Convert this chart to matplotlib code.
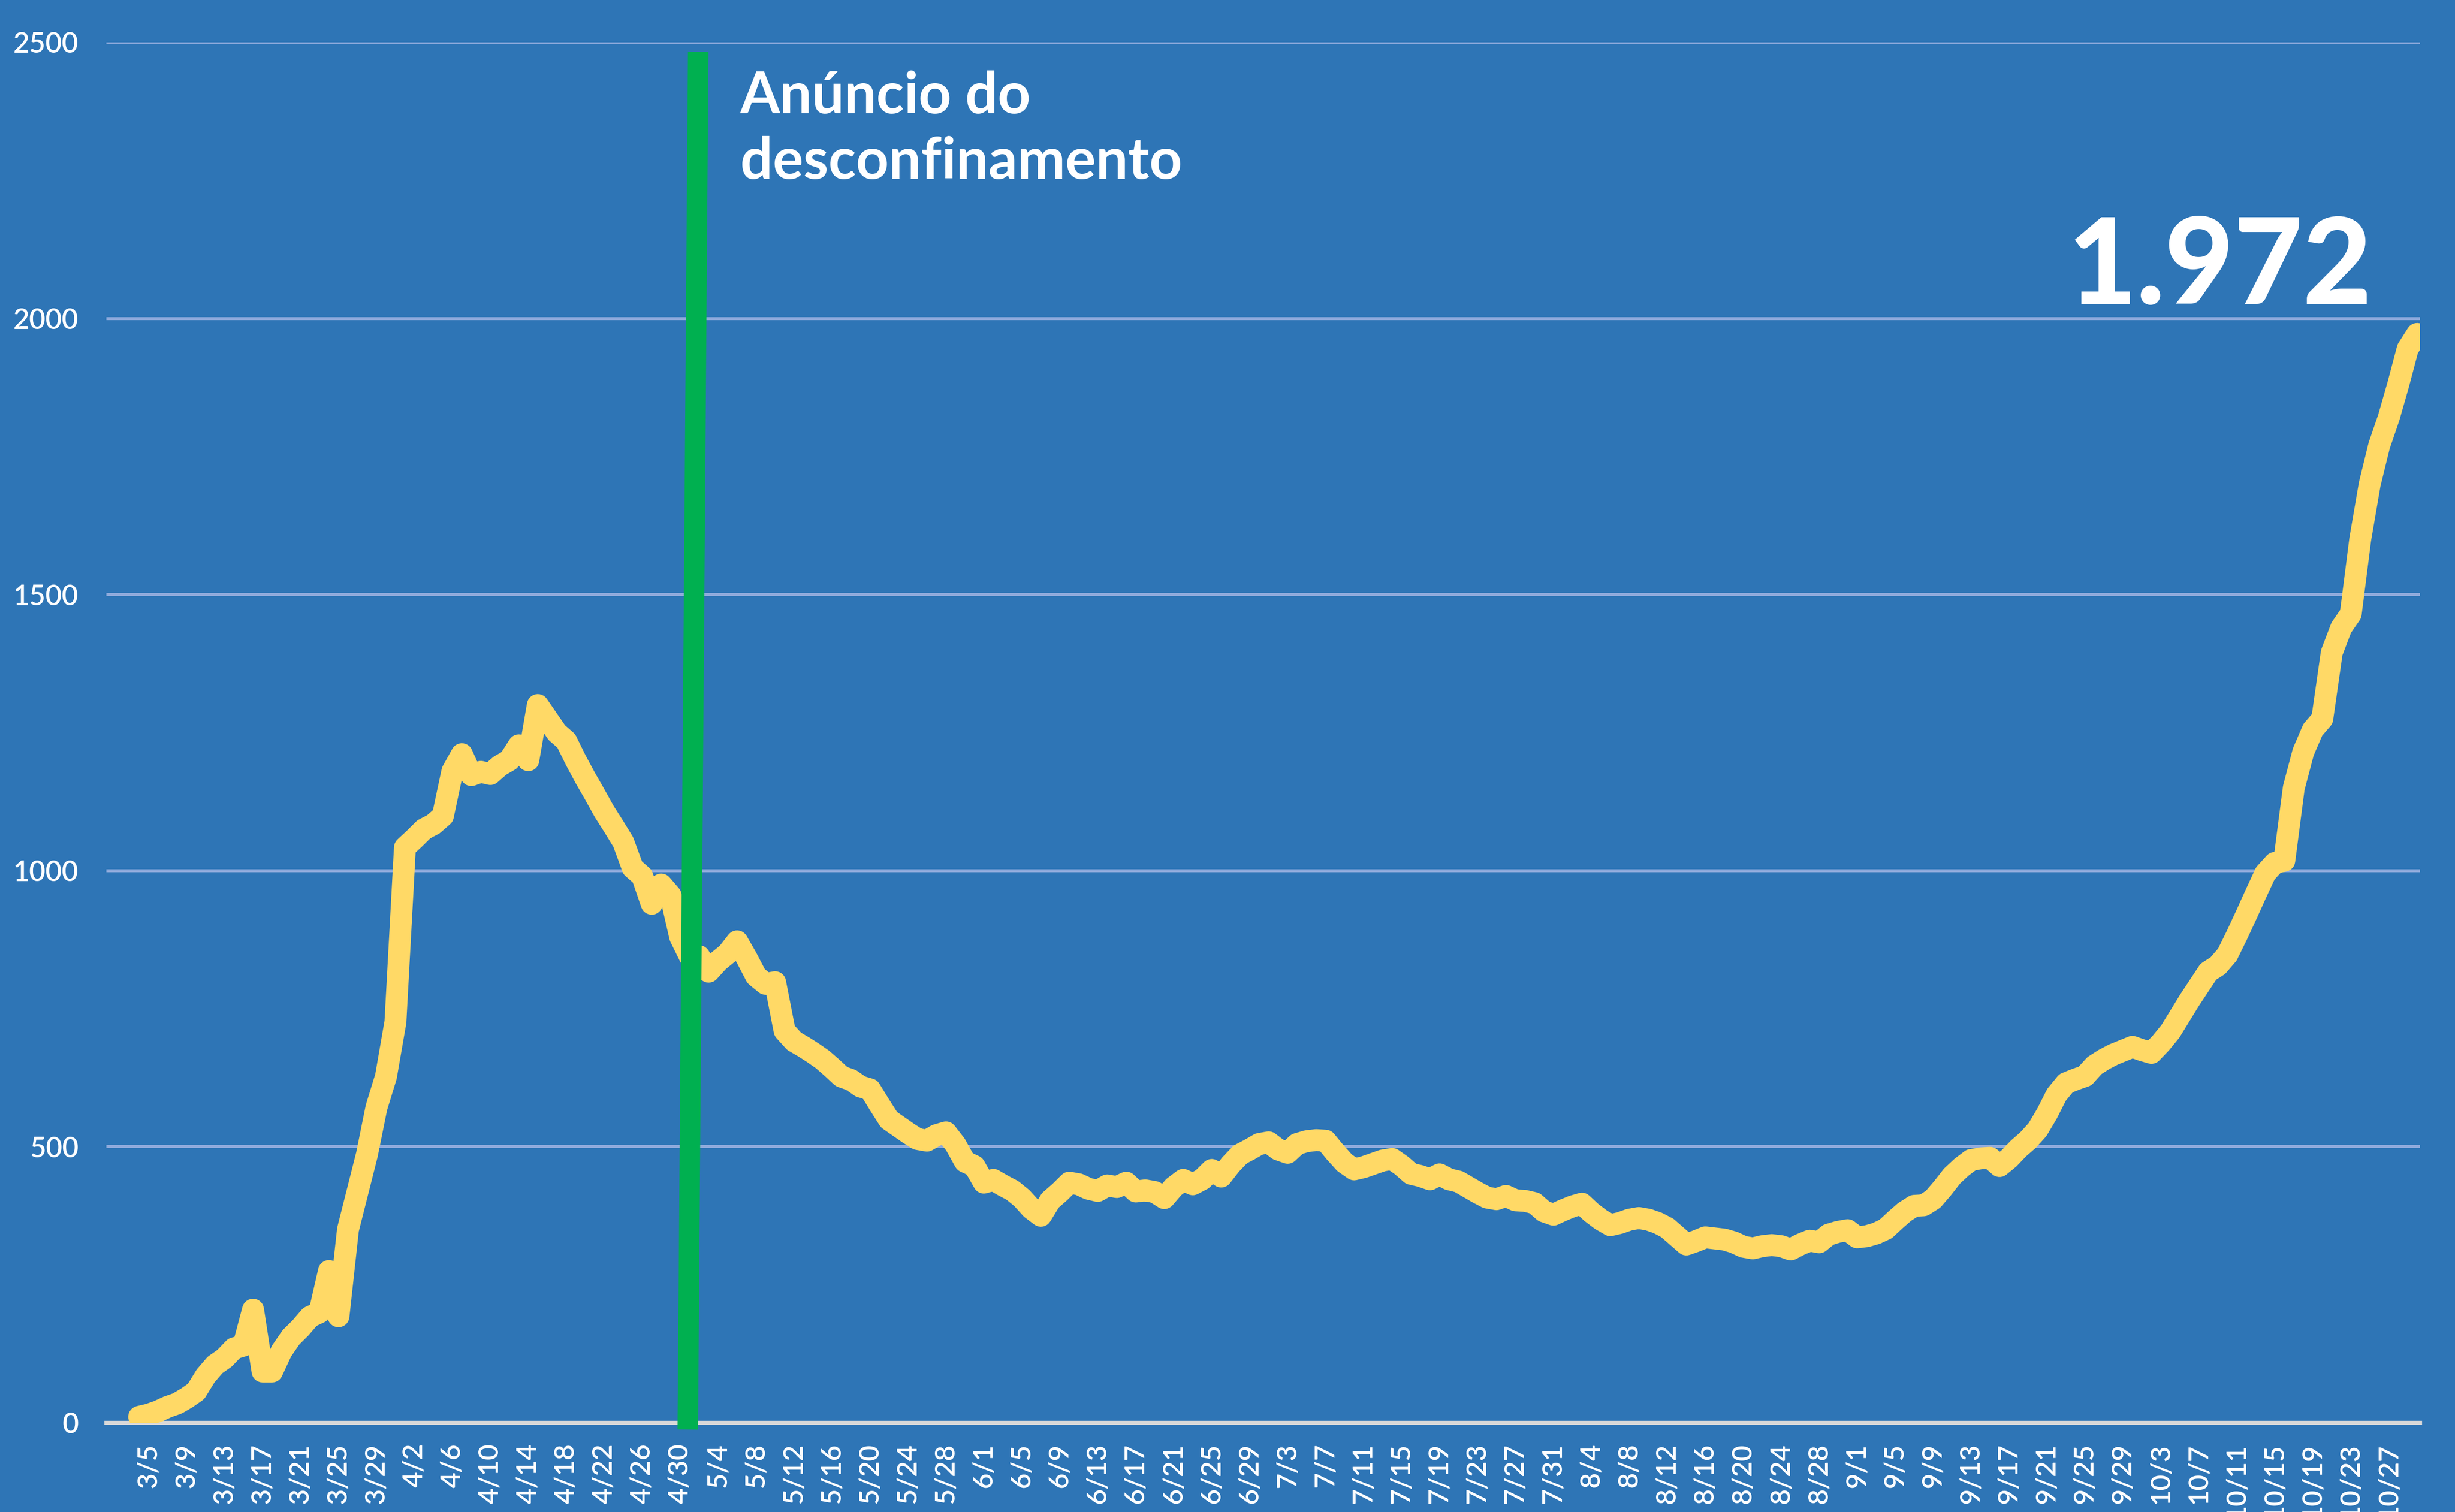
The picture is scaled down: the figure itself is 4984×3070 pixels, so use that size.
import pandas as pd
import matplotlib
matplotlib.use("Agg")
import matplotlib.pyplot as plt

# hospitalised patients per day (3/4 .. 10/30)
start = "2020-03-04"
march = [11, 15, 21, 29, 35, 45, 57, 85, 105, 117, 135, 140, 205, 93, 93, 130,
         155, 172, 192, 200, 275, 193, 350, 418, 486, 571, 627, 726]
april = [1042, 1058, 1075, 1084, 1099, 1180, 1211, 1173, 1179, 1175, 1190, 1200,
         1227, 1200, 1300, 1275, 1250, 1235, 1200, 1168, 1138, 1107, 1080, 1052,
         1005, 990, 940, 975, 955, 880]
may = [845, 845, 817, 836, 850, 872, 842, 809, 795, 798, 710, 691, 681, 670, 658,
       643, 627, 621, 609, 604, 576, 549, 537, 525, 514, 511, 521, 526, 504, 473, 465]
june = [435, 440, 430, 421, 407, 388, 375, 403, 418, 435, 432, 424, 420, 430, 427,
        435, 419, 421, 418, 407, 427, 440, 432, 441, 458, 446, 468, 486, 495, 505]
july = [508, 495, 489, 505, 510, 512, 511, 490, 471, 459, 463, 469, 475, 478, 466,
        451, 447, 441, 450, 441, 437, 427, 417, 408, 405, 411, 403, 402, 398, 383, 377]
august = [385, 392, 397, 381, 368, 358, 362, 368, 371, 368, 362, 353, 338, 323, 329,
          336, 334, 332, 327, 319, 316, 320, 322, 320, 314, 323, 330, 327, 341, 346, 349]
september = [336, 338, 343, 351, 367, 382, 393, 394, 405, 425, 447, 463, 476, 479, 480,
             465, 479, 497, 512, 531, 560, 594, 615, 622, 628, 647, 658, 667, 674, 681]
october = [675, 670, 688, 709, 737, 765, 791, 817, 828, 848, 883, 920, 958, 995, 1014,
           1018, 1150, 1215, 1255, 1275, 1395, 1440, 1465, 1600, 1700, 1770, 1820, 1880,
           1945, 1972]

values = march + april + may + june + july + august + september + october
y_ticks = [0, 500, 1000, 1500, 2000, 2500]
last_label = "1.972"
announce_label = ["Anúncio do", "desconfinamento"]
# green marker (hand drawn, slightly tilted): day offsets from 3/5 at bottom / top
announce_x = [56.8, 57.9]
announce_y = [-12, 2483]

BG = "#2E75B6"
GRID = "#8FAADC"
YELLOW = "#FFD966"
GREEN = "#00B050"

ref = pd.Timestamp("2020-03-05")
dates = pd.date_range(start, periods=len(values), freq="D")
days = (dates - ref).days.values

tick_dates = pd.date_range("2020-03-05", "2020-10-27", freq="4D")
tick_pos = (tick_dates - ref).days.values
tick_labels = [f"{d.month}/{d.day}" for d in tick_dates]

plt.rcParams["font.family"] = ["Lato", "DejaVu Sans"]

W, H = 4984, 3070
fig = plt.figure(figsize=(W / 100, H / 100), dpi=100, facecolor=BG)
ax = fig.add_axes([216 / W, 1 - 2889 / H, (4913 - 216) / W, (2889 - 86) / H], facecolor=BG)
ax.set_xlim(-4.45, 239.3)
ax.set_ylim(0, 2500)

for y in y_ticks[1:]:
    ax.axhline(y, color=GRID, lw=4.3, zorder=1)
ax.axhline(0, color="#D9D9D9", lw=6, zorder=2, clip_on=False)

ax.plot(days, values, color=YELLOW, lw=32, solid_joinstyle="round",
        solid_capstyle="round", zorder=3)
ax.plot(announce_x, announce_y, color=GREEN, lw=30, solid_capstyle="butt",
        clip_on=False, zorder=4)

for s in ax.spines.values():
    s.set_visible(False)
ax.set_yticks(y_ticks)
ax.set_yticklabels([str(v) for v in y_ticks])
ax.set_xticks(tick_pos)
ax.set_xticklabels(tick_labels, rotation=90)
ax.tick_params(axis="y", length=0, pad=41, labelsize=41, labelcolor="white")
ax.tick_params(axis="x", length=0, pad=30, labelsize=40, labelcolor="white")
for lbl in ax.get_xticklabels() + ax.get_yticklabels():
    lbl.set_fontweight("semibold")

fig.text(1503 / W, 1 - 230 / H, announce_label[0], fontsize=83.5, fontweight="bold",
         color="white", ha="left", va="baseline")
fig.text(1503 / W, 1 - 363 / H, announce_label[1], fontsize=83.5, fontweight="bold",
         color="white", ha="left", va="baseline")
fig.text(4816 / W, 1 - 617 / H, last_label, fontsize=174, fontweight="black",
         color="white", ha="right", va="baseline")

fig.savefig("out.png", dpi=100, facecolor=BG)
